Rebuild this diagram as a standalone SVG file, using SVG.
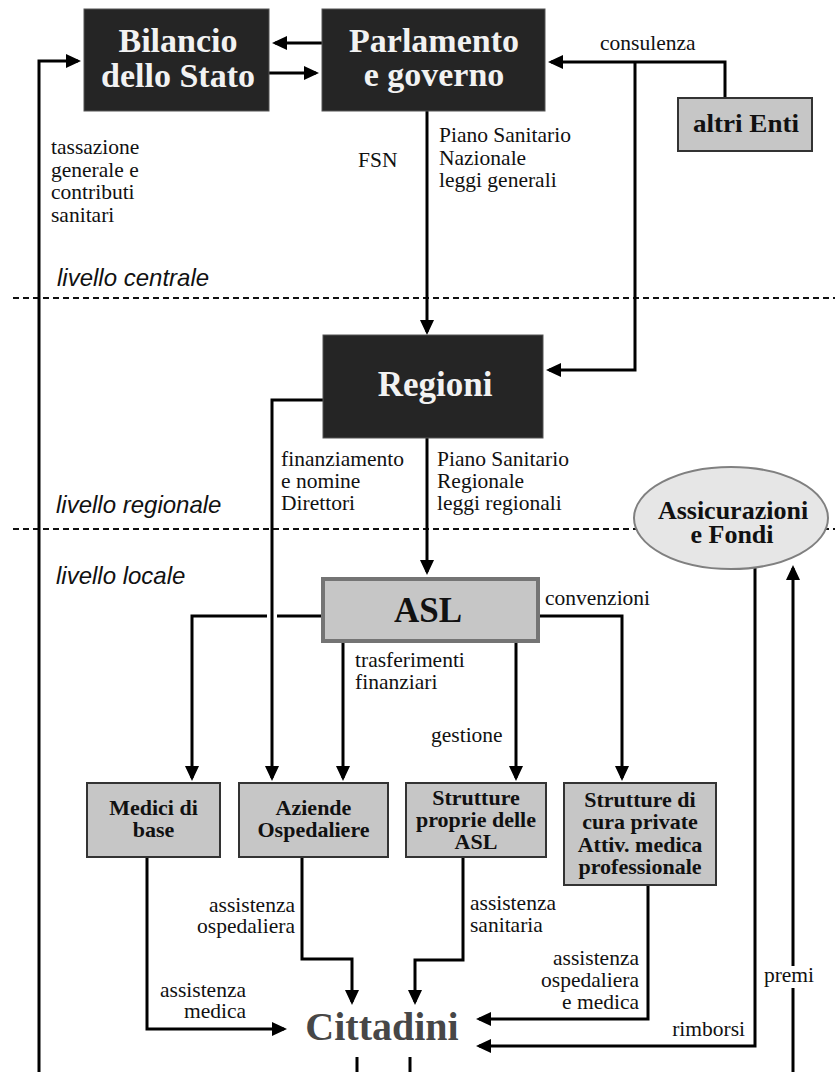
<svg xmlns="http://www.w3.org/2000/svg" width="835" height="1072" viewBox="0 0 835 1072">
  <defs>
    <marker id="arrow" markerUnits="userSpaceOnUse" markerWidth="15" markerHeight="14" refX="12" refY="7" orient="auto">
      <path d="M0,0 L15,7 L0,14 z" fill="#000"/>
    </marker>
    <style>
      .dark { fill: #252525; stroke: #555; stroke-width: 1; }
      .gray { fill: #c6c6c6; stroke: #333; stroke-width: 2; }
      .asl { fill: #c6c6c6; stroke: #747474; stroke-width: 4; }
      .oval { fill: #e6e6e6; stroke: #808080; stroke-width: 2; }
      .title { font-family: "Liberation Serif", "Times New Roman", serif; font-weight: bold; font-size: 34px; fill: #f2f2f2; text-anchor: middle; }
      .boxt { font-family: "Liberation Serif", "Times New Roman", serif; font-weight: bold; font-size: 22px; fill: #111; text-anchor: middle; }
      .big { font-size: 35px; }
      .ovalt { font-size: 26px; }
      .people { font-size: 40px; fill: #474747; }
      .lbl { font-family: "Liberation Serif", "Times New Roman", serif; font-size: 21.5px; fill: #111; }
      .end { text-anchor: end; }
      .mid { text-anchor: middle; }
      .level { font-family: "Liberation Sans", Arial, sans-serif; font-style: italic; font-size: 24px; fill: #111; }
      .sep { stroke: #111; stroke-width: 2; stroke-dasharray: 6 4; fill: none; }
      .wire { fill: none; stroke: #000; stroke-width: 3; }
      .arr { marker-end: url(#arrow); }
    </style>
  </defs>

  <rect width="835" height="1072" fill="#fff"/>

  <!-- level separators -->
  <g id="separators">
    <line class="sep" x1="13" y1="298" x2="835" y2="298"/>
    <line class="sep" x1="13" y1="529" x2="835" y2="529"/>
  </g>

  <!-- level captions -->
  <g id="levels">
    <text class="level" x="57" y="286">livello centrale</text>
    <text class="level" x="56" y="513">livello regionale</text>
    <text class="level" x="56" y="584">livello locale</text>
  </g>

  <!-- connectors -->
  <g id="connectors">
    <path class="wire arr" d="M322,43 H275"/>
    <path class="wire arr" d="M269,73 H316"/>
    <path class="wire arr" d="M39,1072 V61 H78"/>
    <path class="wire arr" d="M427,111 V332"/>
    <path class="wire arr" d="M725,97 V62 H551"/>
    <path class="wire arr" d="M635,62 V370 H549"/>
    <path class="wire arr" d="M323,400 H272 V778"/>
    <path class="wire arr" d="M427,438 V572"/>
    <path class="wire" d="M321,616 H277"/>
    <path class="wire arr" d="M267,616 H192 V778"/>
    <path class="wire arr" d="M343,643 V778"/>
    <path class="wire arr" d="M516,643 V778"/>
    <path class="wire arr" d="M540,616 H622 V778"/>
    <path class="wire arr" d="M147,858 V1029 H284"/>
    <path class="wire arr" d="M302,858 V959 H352 V1002"/>
    <path class="wire arr" d="M463,858 V960 H415 V1002"/>
    <path class="wire arr" d="M648,886 V1019 H479"/>
    <path class="wire arr" d="M755,568 V1046 H479"/>
    <path class="wire" d="M793,1072 V988"/>
    <path class="wire arr" d="M793,966 V568"/>
    <path class="wire" d="M357,1057 V1072"/>
    <path class="wire" d="M410,1057 V1072"/>
  </g>

  <!-- connector labels -->
  <g id="labels">
    <text class="lbl" x="51" y="154">tassazione</text>
    <text class="lbl" x="51" y="176.5">generale e</text>
    <text class="lbl" x="51" y="199">contributi</text>
    <text class="lbl" x="51" y="221.5">sanitari</text>
    <text class="lbl" x="358" y="167">FSN</text>
    <text class="lbl" x="439" y="142">Piano Sanitario</text>
    <text class="lbl" x="439" y="164.5">Nazionale</text>
    <text class="lbl" x="439" y="187">leggi generali</text>
    <text class="lbl" x="600" y="50">consulenza</text>
    <text class="lbl" x="281" y="466">finanziamento</text>
    <text class="lbl" x="281" y="488">e nomine</text>
    <text class="lbl" x="281" y="510">Direttori</text>
    <text class="lbl" x="437" y="466">Piano Sanitario</text>
    <text class="lbl" x="437" y="488">Regionale</text>
    <text class="lbl" x="437" y="510">leggi regionali</text>
    <text class="lbl" x="545" y="605">convenzioni</text>
    <text class="lbl" x="355" y="667">trasferimenti</text>
    <text class="lbl" x="355" y="688.5">finanziari</text>
    <text class="lbl" x="431" y="742">gestione</text>
    <text class="lbl end" x="295" y="912">assistenza</text>
    <text class="lbl end" x="295" y="933">ospedaliera</text>
    <text class="lbl" x="470" y="910">assistenza</text>
    <text class="lbl" x="470" y="932">sanitaria</text>
    <text class="lbl end" x="246" y="997">assistenza</text>
    <text class="lbl end" x="246" y="1018">medica</text>
    <text class="lbl end" x="639" y="965">assistenza</text>
    <text class="lbl end" x="639" y="987">ospedaliera</text>
    <text class="lbl end" x="639" y="1009">e medica</text>
    <text class="lbl end" x="745" y="1036">rimborsi</text>
    <text class="lbl mid" x="789" y="982">premi</text>
  </g>

  <!-- nodes -->
  <g id="bilancio">
    <rect class="dark" x="84" y="9" width="185" height="102"/>
    <text class="title" x="178" y="52">Bilancio</text>
    <text class="title" x="178" y="87">dello Stato</text>
  </g>
  <g id="parlamento">
    <rect class="dark" x="322" y="9" width="223" height="102"/>
    <text class="title" x="434" y="52">Parlamento</text>
    <text class="title" x="434" y="86">e governo</text>
  </g>
  <g id="altri-enti">
    <rect class="gray" x="678" y="98" width="134" height="53"/>
    <text class="boxt" x="746" y="132" style="font-size:25px" textLength="106" lengthAdjust="spacingAndGlyphs">altri Enti</text>
  </g>
  <g id="regioni">
    <rect class="dark" x="323" y="335" width="220" height="103"/>
    <text class="title big" x="435" y="396">Regioni</text>
  </g>
  <g id="assicurazioni">
    <ellipse class="oval" cx="731" cy="518" rx="97" ry="51"/>
    <text class="boxt ovalt" x="733" y="519">Assicurazioni</text>
    <text class="boxt ovalt" x="732" y="543">e Fondi</text>
  </g>
  <g id="asl">
    <rect class="asl" x="323" y="579" width="215" height="62"/>
    <text class="boxt big" x="428" y="622">ASL</text>
  </g>
  <g id="medici">
    <rect class="gray" x="87" y="783" width="133" height="74"/>
    <text class="boxt" x="153.5" y="815">Medici di</text>
    <text class="boxt" x="153.5" y="837">base</text>
  </g>
  <g id="aziende">
    <rect class="gray" x="239" y="783" width="149" height="74"/>
    <text class="boxt" x="313.5" y="815">Aziende</text>
    <text class="boxt" x="313.5" y="837">Ospedaliere</text>
  </g>
  <g id="strutture-asl">
    <rect class="gray" x="406" y="783" width="140" height="74"/>
    <text class="boxt" x="476" y="805">Strutture</text>
    <text class="boxt" x="476" y="827">proprie delle</text>
    <text class="boxt" x="476" y="849">ASL</text>
  </g>
  <g id="strutture-private">
    <rect class="gray" x="564" y="783" width="152" height="102"/>
    <text class="boxt" x="640" y="807">Strutture di</text>
    <text class="boxt" x="640" y="829">cura private</text>
    <text class="boxt" x="640" y="852">Attiv. medica</text>
    <text class="boxt" x="640" y="874">professionale</text>
  </g>
  <g id="cittadini">
    <text class="boxt people" x="382" y="1040">Cittadini</text>
  </g>
</svg>
